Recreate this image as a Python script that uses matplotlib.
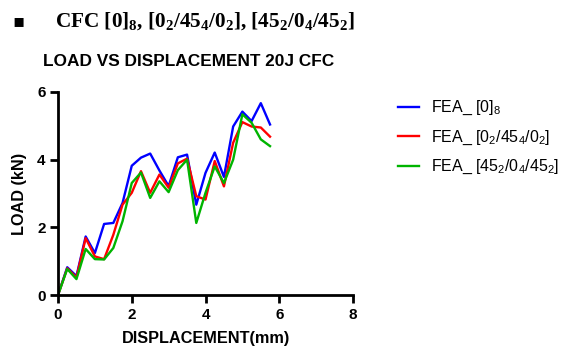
import matplotlib
matplotlib.use("Agg")
import matplotlib.pyplot as plt

# displacement (mm) and FEA load (kN)
disp = [0, 0.25, 0.5, 0.75, 1.0, 1.25, 1.5, 1.75, 2.0, 2.25, 2.5, 2.75,
        3.0, 3.25, 3.5, 3.75, 4.0, 4.25, 4.5, 4.75, 5.0, 5.25, 5.5, 5.75]
load_0_8 = [0, 0.82, 0.56, 1.73, 1.24, 2.10, 2.13, 2.72, 3.82, 4.06, 4.18, 3.68,
            3.22, 4.07, 4.15, 2.67, 3.61, 4.21, 3.49, 4.98, 5.42, 5.14, 5.67, 5.04]
load_0_45_0 = [0, 0.79, 0.52, 1.68, 1.14, 1.06, 1.78, 2.67, 3.02, 3.66, 3.02, 3.56,
               3.17, 3.89, 4.03, 2.92, 2.82, 3.96, 3.21, 4.50, 5.11, 4.98, 4.95, 4.68]
load_45_0_45 = [0, 0.77, 0.47, 1.36, 1.06, 1.05, 1.39, 2.18, 3.31, 3.62, 2.87, 3.36,
                3.04, 3.69, 4.00, 2.13, 3.02, 3.80, 3.31, 4.00, 5.34, 5.09, 4.60, 4.40]
labels = [r"FEA_ $\mathdefault{[0]_8}$",
          r"FEA_ $\mathdefault{[0_2/45_4/0_2]}$",
          r"FEA_ $\mathdefault{[45_2/0_4/45_2]}$"]
colors = ["#0000FF", "#FF0000", "#00B400"]
xticks = [0, 2, 4, 6, 8]
yticks = [0, 2, 4, 6]

plt.rcParams["font.family"] = ["Liberation Sans", "DejaVu Sans"]

fig = plt.figure(figsize=(5.71, 3.49), dpi=100)
ax = fig.add_axes([0.1016, 0.1547, 0.5166, 0.5817])

for y, lab, c in zip([load_0_8, load_0_45_0, load_45_0_45], labels, colors):
    ax.plot(disp, y, color=c, lw=1.7, label=lab)

ax.set_xlim(0, 8); ax.set_ylim(0, 6)
ax.set_xticks(xticks); ax.set_yticks(yticks)
for s in ["top", "right"]:
    ax.spines[s].set_visible(False)
for s in ["left", "bottom"]:
    ax.spines[s].set_linewidth(2)
ax.tick_params(width=2, length=6, labelsize=11, pad=3)
for t in ax.get_xticklabels() + ax.get_yticklabels():
    t.set_fontweight("bold")
ax.set_xlabel("DISPLACEMENT(mm)", fontsize=11.7, fontweight="bold", labelpad=7)
ax.set_ylabel("LOAD (kN)", fontsize=11.7, fontweight="bold", labelpad=7)

fig.text(0.075, 0.825, "LOAD VS DISPLACEMENT 20J CFC", fontsize=12.4,
         fontweight="bold", va="center")
fig.text(0.022, 0.94, "\u25aa", fontsize=13, family="DejaVu Sans", va="center")
fig.text(0.096, 0.94,
         r"CFC $\mathdefault{[0]_8}$, $\mathdefault{[0_2/45_4/0_2]}$, $\mathdefault{[45_2/0_4/45_2]}$",
         fontsize=15.3, fontweight="bold", family="Liberation Serif", va="center")

ax.legend(loc="upper left", bbox_to_anchor=(0.672, 0.757), bbox_transform=fig.transFigure,
          frameon=False, fontsize=11.5, handlelength=1.3, handletextpad=0.75,
          labelspacing=0.7)

fig.savefig("out.png", dpi=100)
